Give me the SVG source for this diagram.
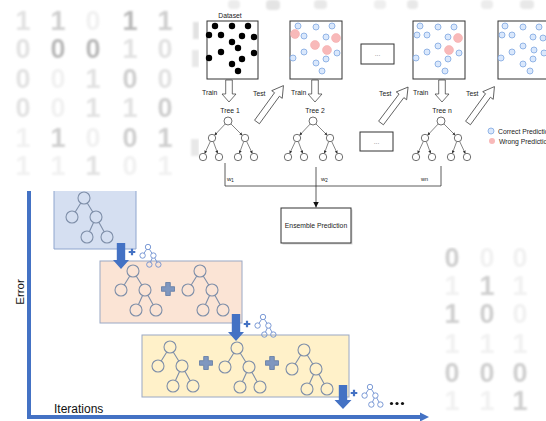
<svg xmlns="http://www.w3.org/2000/svg" width="546" height="421" viewBox="0 0 546 421">
<defs>
<style>
.dg{font-family:"Liberation Sans",Arial,sans-serif;font-weight:bold;font-size:27px;text-anchor:middle}
.d1{fill:#f1f1f1}.d2{fill:#e2e2e2}.d3{fill:#cfcfcf}.d4{fill:#b9b9b9}
.t{font-family:"Liberation Sans",Arial,sans-serif;font-size:6.8px;fill:#222}
.tm{text-anchor:middle}
.box{fill:#fff;stroke:#333;stroke-width:1}
.bk{fill:#000}
.bl{fill:#dae8fc;stroke:#7ea6e0;stroke-width:0.8}
.rd{fill:#f8b9b9;stroke:#f4a8a8;stroke-width:0.5}
.hol{fill:#fff;stroke:#333;stroke-width:0.7}
.tn circle{fill:#fff;stroke:#333;stroke-width:0.7}
.tn line{stroke:#333;stroke-width:0.6;marker-end:url(#ah)}
.ln{stroke:#333;stroke-width:0.8;fill:none}
.lt{stroke:#7f8fa9;stroke-width:1.1;fill:none}
.mt{stroke:#6d8fd0;stroke-width:2;fill:none}
.ax{stroke:#4472c4;stroke-width:4;fill:none}
.ba{fill:#4472c4}
.bp{fill:#7f97bf;stroke:#5f7aa3;stroke-width:0.8}
.lab{font-family:"Liberation Sans",Arial,sans-serif;font-size:12px;fill:#111}
</style>
<filter id="blur" x="-30%" y="-30%" width="160%" height="160%"><feGaussianBlur stdDeviation="1"/></filter>
<clipPath id="clipTL"><rect x="0" y="0" width="199" height="191"/></clipPath>
<marker id="ah" viewBox="0 0 6 6" refX="6" refY="3" markerWidth="3" markerHeight="3" markerUnits="userSpaceOnUse" orient="auto"><path d="M0,0L6,3L0,6z" fill="#333"/></marker>
<marker id="ah2" viewBox="0 0 6 6" refX="6" refY="3" markerWidth="6" markerHeight="6" markerUnits="userSpaceOnUse" orient="auto"><path d="M0,0L6,3L0,6z" fill="#111"/></marker>
<g id="ttree" class="tn">
<line x1="-2.74" y1="2.91" x2="-13.47" y2="14.31"/>
<line x1="2.83" y1="2.83" x2="14.38" y2="14.38"/>
<line x1="-17.58" y1="20.34" x2="-23.42" y2="32.66"/>
<line x1="-14.72" y1="20.47" x2="-10.28" y2="32.53"/>
<line x1="15.72" y1="20.47" x2="11.28" y2="32.53"/>
<line x1="18.58" y1="20.34" x2="24.42" y2="32.66"/>
<circle r="4"/>
<circle cx="-16" cy="17" r="3.7"/><circle cx="17" cy="17" r="3.7"/>
<circle cx="-25" cy="36" r="3.7"/><circle cx="-9" cy="36" r="3.7"/><circle cx="10" cy="36" r="3.7"/><circle cx="26" cy="36" r="3.7"/>
</g>
<g id="ltree" fill="none">
<circle r="6"/><circle cx="-12" cy="19" r="6"/><circle cx="12" cy="19" r="6"/><circle cx="3" cy="39" r="6"/><circle cx="23" cy="39" r="6"/>
<path d="M-3.2,5.07L-8.8,13.930M3.2,5.07L8.8,13.93M9.54,24.47L5.46,33.53M14.89,24.26L20.11,33.74"/>
</g>
<path id="train" class="hol" d="M-3.3,0H3.3V14H7L0,22L-7,14H-3.3Z"/>
<path id="test" class="hol" d="M0,-3H34V-6.5L45,0L34,6.5V3H0Z"/>
<path id="bplus" class="bp" d="M-2.3,-6.5h4.6v4.2h4.2v4.6h-4.2v4.2h-4.6v-4.2h-4.2v-4.6h4.2z"/>
<path id="splus" class="ba" d="M-1.1,-3.3h2.2v2.2h2.2v2.2h-2.2v2.2h-2.2v-2.2h-2.2v-2.2h2.2z"/>
<g id="bdots" class="bl">
<circle cx="420" cy="26" r="3"/><circle cx="438" cy="27" r="3"/><circle cx="454" cy="27" r="3"/><circle cx="417" cy="35" r="3"/><circle cx="427" cy="35" r="3"/><circle cx="448" cy="37" r="3"/><circle cx="438" cy="46" r="3"/><circle cx="427" cy="52" r="3"/><circle cx="416" cy="58" r="3"/><circle cx="459" cy="53" r="3"/><circle cx="448" cy="59" r="3"/><circle cx="438" cy="64" r="3"/><circle cx="445" cy="71" r="3"/>
</g>
</defs>

<rect width="546" height="421" fill="#fff"/>

<g id="binary-top-left" class="dg" filter="url(#blur)" clip-path="url(#clipTL)">
<text x="23" y="30" class="d2">1</text><text x="58" y="30" class="d3">1</text><text x="93" y="30" class="d1">0</text><text x="130" y="30" class="d4">1</text><text x="165" y="30" class="d3">1</text>
<text x="23" y="58" class="d2">0</text><text x="58" y="58" class="d4">0</text><text x="93" y="58" class="d4">0</text><text x="130" y="58" class="d2">1</text><text x="165" y="58" class="d2">0</text>
<text x="23" y="88" class="d2">0</text><text x="58" y="88" class="d1">0</text><text x="93" y="88" class="d2">1</text><text x="130" y="88" class="d3">0</text><text x="165" y="88" class="d2">0</text>
<text x="23" y="117" class="d2">0</text><text x="58" y="117" class="d1">0</text><text x="93" y="117" class="d2">1</text><text x="130" y="117" class="d2">1</text><text x="165" y="117" class="d3">0</text>
<text x="23" y="147" class="d1">1</text><text x="58" y="147" class="d3">1</text><text x="93" y="147" class="d1">0</text><text x="130" y="147" class="d3">0</text><text x="165" y="147" class="d3">1</text>
<text x="23" y="175" class="d1">1</text><text x="58" y="175" class="d1">1</text><text x="93" y="175" class="d2">1</text><text x="130" y="175" class="d1">0</text><text x="165" y="175" class="d1">1</text>
</g>
<g id="binary-strips" filter="url(#blur)">
<rect x="193" y="22" width="6" height="17" fill="#e2e2e2"/>
<rect x="192" y="50" width="7" height="17" fill="#e8e8e8"/>
<rect x="191" y="139" width="8" height="17" fill="#e8e8e8"/>
<rect x="228" y="0" width="12" height="9" rx="4" fill="#ececec"/>
<rect x="266" y="0" width="14" height="10" rx="4" fill="#e4e4e4"/>
<rect x="314" y="0" width="13" height="9" rx="4" fill="#e8e8e8"/>
<rect x="374" y="0" width="12" height="9" rx="4" fill="#eeeeee"/>
<rect x="407" y="0" width="11" height="9" rx="4" fill="#e8e8e8"/>
<rect x="481" y="0" width="12" height="9" rx="4" fill="#ececec"/>
<rect x="520" y="0" width="14" height="9" rx="4" fill="#e8e8e8"/>
</g>
<g id="binary-right" class="dg" filter="url(#blur)">
<text x="452" y="267" class="d3">0</text><text x="487" y="267" class="d1">0</text><text x="520" y="267" class="d1">0</text>
<text x="452" y="295" class="d1">1</text><text x="487" y="295" class="d3">1</text><text x="520" y="295" class="d1">1</text>
<text x="452" y="323" class="d3">1</text><text x="487" y="323" class="d3">0</text><text x="520" y="323" class="d1">0</text>
<text x="452" y="353" class="d1">1</text><text x="487" y="353" class="d1">1</text><text x="520" y="353" class="d1">1</text>
<text x="452" y="382" class="d3">0</text><text x="487" y="382" class="d3">0</text><text x="520" y="382" class="d3">0</text>
<text x="452" y="410" class="d1">1</text><text x="487" y="410" class="d1">1</text><text x="520" y="410" class="d3">1</text>
</g>

<rect x="199" y="13" width="347" height="234" fill="#fff"/>
<rect x="0" y="191" width="440" height="230" fill="#fff"/>

<!-- Top diagram -->
<g id="dataset">
<text class="t tm" x="230" y="18">Dataset</text>
<rect class="box" x="207" y="21" width="51" height="58"/>
<g class="bk">
<circle cx="215" cy="26" r="3.2"/><circle cx="232" cy="26" r="3.2"/><circle cx="248" cy="26" r="3.2"/><circle cx="209" cy="35" r="3.2"/><circle cx="221" cy="35" r="3.2"/><circle cx="242" cy="36" r="3.2"/><circle cx="254" cy="37" r="3.2"/><circle cx="232" cy="42" r="3.2"/><circle cx="238" cy="48" r="3.2"/><circle cx="221" cy="52" r="3.2"/><circle cx="254" cy="53" r="3.2"/><circle cx="209" cy="58" r="3.2"/><circle cx="242" cy="59" r="3.2"/><circle cx="232" cy="64" r="3.2"/><circle cx="238" cy="71" r="3.2"/>
</g>
</g>

<g id="result1">
<rect class="box" x="290" y="21" width="52" height="58"/>
<g class="bl">
<circle cx="298" cy="26" r="3"/><circle cx="316" cy="27" r="3"/><circle cx="332" cy="26" r="3"/><circle cx="304" cy="36" r="3"/><circle cx="326" cy="37" r="3"/><circle cx="304" cy="52" r="3"/><circle cx="293" cy="58" r="3"/><circle cx="337" cy="53" r="3"/><circle cx="316" cy="63" r="3"/><circle cx="326" cy="59" r="3"/><circle cx="322" cy="71" r="3"/>
</g>
<g class="rd">
<circle cx="295" cy="34" r="4.5"/><circle cx="336" cy="38" r="4.5"/><circle cx="315" cy="45" r="4.5"/><circle cx="327" cy="50" r="4.5"/>
</g>
</g>

<g id="ellipsis-top">
<rect class="box" x="361" y="44" width="33" height="20"/>
<text class="t tm" x="377.5" y="56" style="fill:#888">...</text>
</g>

<g id="result2">
<rect class="box" x="413" y="21" width="52" height="58"/>
<use href="#bdots"/>
<g class="rd"><circle cx="458" cy="38" r="4.5"/><circle cx="449" cy="50" r="4.5"/></g>
</g>

<g id="result3">
<rect class="box" x="498" y="21" width="52" height="58"/>
<use href="#bdots" transform="translate(85,0)"/>
<g class="bl"><circle cx="543" cy="38" r="3"/><circle cx="534" cy="50" r="3"/></g>
</g>

<g id="train-test-arrows">
<use href="#train" transform="translate(229,80)"/>
<use href="#train" transform="translate(315,80)"/>
<use href="#train" transform="translate(442,80)"/>
<use href="#test" transform="translate(257,122) rotate(-54)"/>
<use href="#test" transform="translate(381,123) rotate(-53)"/>
<use href="#test" transform="translate(468,123) rotate(-54)"/>
<text class="t" x="202" y="95">Train</text>
<text class="t" x="291" y="95">Train</text>
<text class="t" x="413" y="95">Train</text>
<text class="t" x="253" y="96">Test</text>
<text class="t" x="379" y="96">Test</text>
<text class="t" x="466" y="96">Test</text>
</g>

<g id="tree1">
<text class="t tm" x="230" y="113">Tree 1</text>
<use href="#ttree" transform="translate(228,121)"/>
</g>
<g id="tree2">
<text class="t tm" x="315" y="113">Tree 2</text>
<use href="#ttree" transform="translate(313,121)"/>
</g>
<g id="ellipsis-mid">
<rect class="box" x="360" y="132" width="33" height="19"/>
<text class="t tm" x="376.5" y="143.5" style="fill:#888">...</text>
</g>
<g id="treen">
<text class="t tm" x="442" y="113">Tree n</text>
<use href="#ttree" transform="translate(441,121)"/>
</g>

<g id="legend">
<circle class="bl" cx="491" cy="131" r="3"/>
<text class="t" x="498" y="133.5">Correct Prediction</text>
<circle cx="492" cy="141" r="3" fill="#f8b9b9"/>
<text class="t" x="499" y="143.5">Wrong Prediction</text>
</g>

<g id="connectors">
<path class="ln" d="M225,163V186H441V166"/>
<line class="ln" x1="316" y1="167" x2="316" y2="207.5" marker-end="url(#ah2)"/>
<text class="t" x="227" y="180.5" style="font-size:6px">w<tspan dy="1.5" style="font-size:4.5px">1</tspan></text>
<text class="t" x="321" y="180.5" style="font-size:6px">w<tspan dy="1.5" style="font-size:4.5px">2</tspan></text>
<text class="t" x="421" y="181" style="font-size:5.5px">wn</text>
</g>

<g id="ensemble">
<rect x="282.5" y="209.5" width="70" height="35" fill="#d8d8d8"/>
<rect class="box" x="281" y="208" width="70" height="35"/>
<text class="t tm" x="316" y="228">Ensemble Prediction</text>
</g>

<!-- Lower diagram -->
<g id="axes">
<line class="ax" x1="29" y1="191" x2="29" y2="419"/>
<line class="ax" x1="27" y1="417" x2="423" y2="417"/>
<path class="ba" d="M420,412.5L429,417L420,421.5Z"/>
<text class="lab" transform="translate(23.5,292) rotate(-90)" text-anchor="middle" style="font-size:11.5px">Error</text>
<text class="lab" x="54" y="413">Iterations</text>
</g>

<g id="stage1">
<rect x="54" y="191" width="82" height="58" fill="#d5dff1"/>
<path d="M54,191V249H136V191" fill="none" stroke="#8ea5ce" stroke-width="1"/>
<use href="#ltree" class="lt" transform="translate(84,198)"/>
</g>

<g id="stage2">
<rect x="100" y="261" width="142" height="62" fill="#fbe4d5" stroke="#9aa8c4" stroke-width="1"/>
<use href="#ltree" class="lt" transform="translate(133,271)"/>
<use href="#bplus" transform="translate(168,289)"/>
<use href="#ltree" class="lt" transform="translate(200,271)"/>
</g>

<g id="stage3">
<rect x="142" y="335" width="207" height="62" fill="#fff1c9" stroke="#9aa8c4" stroke-width="1"/>
<use href="#ltree" class="lt" transform="translate(170,347)"/>
<use href="#bplus" transform="translate(206,363)"/>
<use href="#ltree" class="lt" transform="translate(237,348)"/>
<use href="#bplus" transform="translate(272,363)"/>
<use href="#ltree" class="lt" transform="translate(304,350)"/>
</g>

<g id="step-arrows">
<path class="ba" d="M116.8,243H125.2V260H129L121,269L113,260H116.8Z"/>
<path class="ba" d="M231.8,314H240.2V332H244L236,341L228,332H231.8Z"/>
<path class="ba" d="M338.8,385H347.2V400H351.5L343,409L334.5,400H338.8Z"/>
</g>

<g id="added-trees">
<use href="#splus" transform="translate(132,252)"/>
<use href="#ltree" class="mt" transform="translate(148,247) scale(0.45)"/>
<use href="#splus" transform="translate(247,324)"/>
<use href="#ltree" class="mt" transform="translate(263,317) scale(0.45)"/>
<use href="#splus" transform="translate(354,393)"/>
<use href="#ltree" class="mt" transform="translate(370,387) scale(0.45)"/>
<circle cx="391.5" cy="403.5" r="1.6" fill="#111"/><circle cx="397" cy="403.5" r="1.6" fill="#111"/><circle cx="402.5" cy="403.5" r="1.6" fill="#111"/>
</g>
</svg>
